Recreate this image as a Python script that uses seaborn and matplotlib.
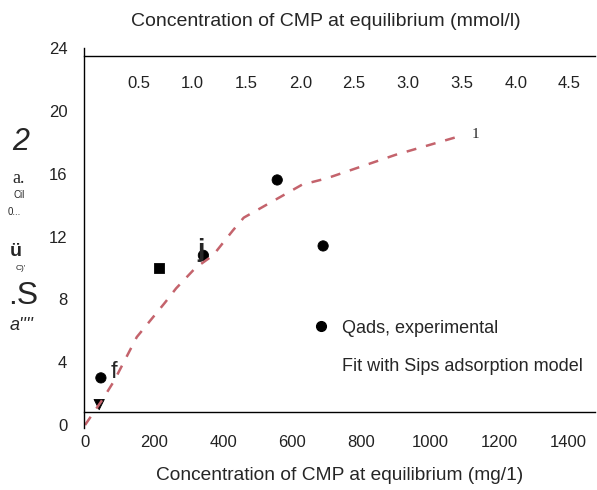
import pandas as pd
import seaborn as sns
import matplotlib.pyplot as plt
from matplotlib.lines import Line2D

# Experimental points (mg/l, mg/g) and the marker each one shows in the scan
conc_exp = [41, 46, 214, 343, 557, 690]
qads_exp = [1.3, 3.0, 10.0, 10.8, 15.6, 11.4]
shape_exp = ['v', 'o', 's', 'o', 'o', 'o']

# Sips fit curve
conc_fit = [0, 50, 84, 150, 232, 264, 320, 371, 429, 460, 629, 700, 900, 1072]
qads_fit = [0, 1.6, 2.8, 5.6, 7.8, 8.7, 10.0, 10.8, 12.4, 13.2, 15.3, 15.7, 17.2, 18.3]

# Axis ticks
x_ticks = [0, 200, 400, 600, 800, 1000, 1200, 1400]
y_ticks = [0, 4, 8, 12, 16, 20, 24]
top_ticks = [0.5, 1.0, 1.5, 2.0, 2.5, 3.0, 3.5, 4.0, 4.5]
mg_per_mmol = 312

exp = pd.DataFrame({'c': conc_exp, 'q': qads_exp, 'shape': shape_exp})
fit = pd.DataFrame({'c': conc_fit, 'q': qads_fit})

sns.set_style('white')
plt.rcParams['font.family'] = ['Liberation Sans', 'DejaVu Sans']

fig = plt.figure(figsize=(5.97, 4.9), dpi=100)
ax = fig.add_axes([84 / 597, 62 / 490, 511 / 597, 380 / 490])

red = '#c4636c'
sns.lineplot(x='c', y='q', data=fit, ax=ax, color=red, lw=1.8,
             linestyle=(0, (4, 4)), legend=False)
sns.scatterplot(x='c', y='q', style='shape', data=exp, ax=ax, color='black',
                markers={'v': 'v', 'o': 'o', 's': 's'}, s=55,
                edgecolor='black', legend=False)

ax.set_xlim(-3, 1478)
ax.set_ylim(-0.19, 24)
ax.set_xticks(x_ticks)
ax.set_yticks(y_ticks)
ax.tick_params(axis='x', length=0, pad=17, labelsize=12, labelcolor='#222222')
ax.tick_params(axis='y', length=0, pad=12, labelsize=12, labelcolor='#222222')
ax.spines['bottom'].set_position(('data', 0.85))
ax.spines['top'].set_visible(False)
ax.spines['right'].set_visible(False)
for s in ['left', 'bottom']:
    ax.spines[s].set_color('black')
    ax.spines[s].set_linewidth(1.0)
ax.set_xlabel('Concentration of CMP at equilibrium (mg/1)', fontsize=13.8, labelpad=12)
ax.set_ylabel('')

# Molar concentration axis on top, labels sit inside the frame
secax = ax.secondary_xaxis(0.979, functions=(lambda x: x / mg_per_mmol,
                                             lambda x: x * mg_per_mmol))
secax.set_xticks(top_ticks)
secax.set_xticklabels([f'{t:.1f}' for t in top_ticks])
secax.tick_params(axis='x', length=0, pad=-25, labelsize=12, labelcolor='#222222')
secax.spines['top'].set_color('black')
secax.spines['top'].set_linewidth(1.0)
fig.text(0.545, 0.956, 'Concentration of CMP at equilibrium (mmol/l)',
         ha='center', va='center', fontsize=14)

# Garbled y-axis label, kept as it appears in the scan
fig.text(12 / 597, 1 - 142 / 490, '2', fontsize=22, style='italic', va='center')
fig.text(12 / 597, 1 - 178 / 490, 'a.', fontsize=13, family='Liberation Serif', va='center')
fig.text(14 / 597, 1 - 195 / 490, 'Cil', fontsize=7, va='center')
fig.text(8 / 597, 1 - 212 / 490, '0...', fontsize=7, va='center')
fig.text(10 / 597, 1 - 252 / 490, 'ü', fontsize=14, weight='bold', va='center')
fig.text(16 / 597, 1 - 268 / 490, "C)'", fontsize=6, va='center')
fig.text(8 / 597, 1 - 296 / 490, '.S', fontsize=23, va='center')
fig.text(10 / 597, 1 - 326 / 490, "a''''", fontsize=13, style='italic', va='center')

# Stray glyphs on the plot area
fig.text(111 / 597, 1 - 372 / 490, 'f', fontsize=17, va='center')
fig.text(197 / 597, 1 - 250 / 490, 'j', fontsize=19, weight='bold', va='center')
fig.text(472 / 597, 1 - 135 / 490, '1', fontsize=11, family='Liberation Serif', va='center')

handles = [Line2D([], [], marker='o', color='black', linestyle='none', markersize=7),
           Line2D([], [], color='none')]
ax.legend(handles, ['Qads, experimental', 'Fit with Sips adsorption model'],
          loc='center left', bbox_to_anchor=(0.405, 0.212), frameon=False,
          fontsize=13, handletextpad=0.4, labelspacing=1.2, handlelength=1.5)

fig.savefig('out.png', dpi=100)
